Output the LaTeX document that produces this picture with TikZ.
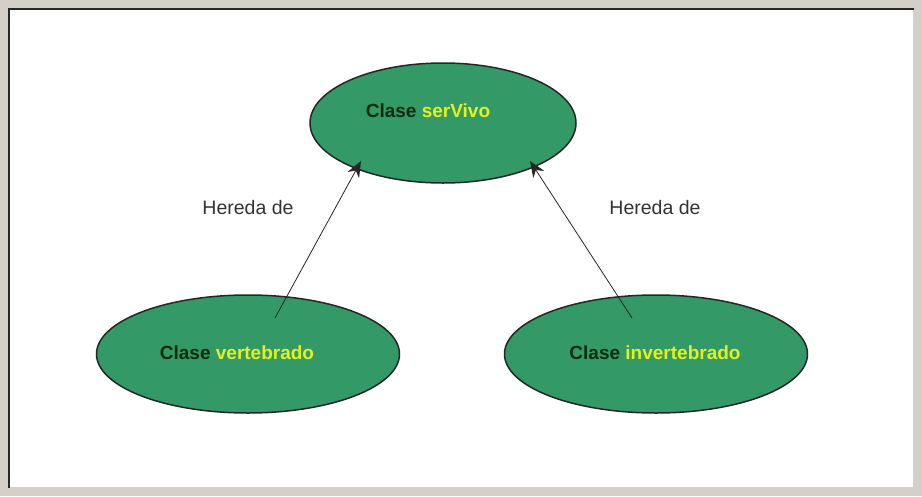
\documentclass[tikz,border=0pt]{standalone}
\usepackage{fontspec}
\setmainfont{Liberation Sans}
\usetikzlibrary{shapes.geometric,arrows.meta}
\definecolor{frameg}{HTML}{D4D0C8}
\definecolor{ellg}{HTML}{339966}
\definecolor{txtg}{HTML}{0B2A14}
\definecolor{yel}{HTML}{E6F01E}
\tikzset{
  cls/.style={ellipse,draw=black!85,line width=1.5pt,fill=ellg},
  lbl/.style={font=\fontsize{19}{22}\selectfont\bfseries,text=txtg},
  inh/.style={draw=black!85,line width=0.8pt,-{Stealth[length=16pt,width=13pt]}},
  note/.style={font=\fontsize{19.5}{22}\selectfont,text=black!80}
}
\begin{document}
\begin{tikzpicture}[x=1pt,y=-1pt]
\fill[frameg] (0,0) rectangle (922,496);
\fill[white] (8,8) rectangle (913,487);
\draw[black!85,line width=2pt] (9,488) -- (9,9) -- (914,9);
\node[cls,minimum width=266pt,minimum height=120pt] (top) at (443,123) {};
\node[cls,minimum width=303pt,minimum height=118pt] (left) at (248,354) {};
\node[cls,minimum width=303pt,minimum height=118pt] (right) at (656,354) {};
\node[lbl] (tt) at (428,111) {Clase \textcolor{yel}{serVivo}};
\node[lbl] (lt) at (237,353) {Clase \textcolor{yel}{vertebrado}};
\node[lbl] (rt) at (655,353) {Clase \textcolor{yel}{invertebrado}};
\coordinate (la) at (275,318);
\coordinate (ra) at (632,318);
\coordinate (lt2) at (361,161);
\coordinate (rt2) at (530,161);
\draw[inh] (la) -- (lt2);
\draw[inh] (ra) -- (rt2);
\node[note] (n1) at (248,208) {Hereda de};
\node[note] (n2) at (655,208) {Hereda de};
\end{tikzpicture}
\end{document}
